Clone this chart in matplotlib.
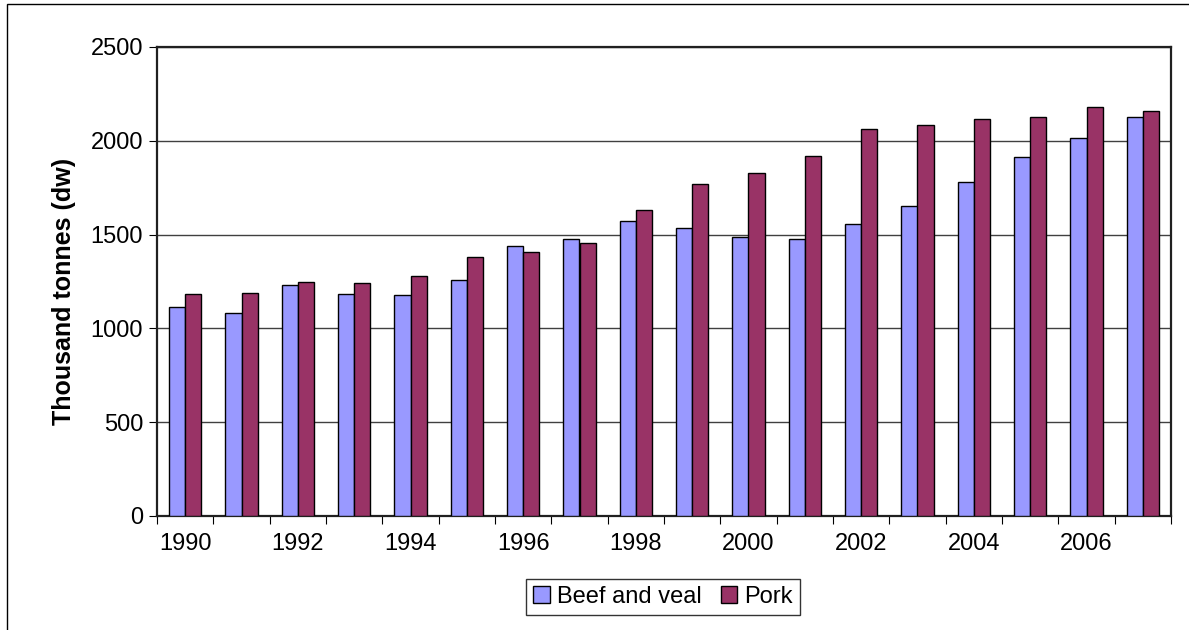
import matplotlib
matplotlib.use("Agg")
import matplotlib.pyplot as plt
import numpy as np
from matplotlib.patches import Rectangle

years = list(range(1990, 2008))
beef_veal = [1114, 1080, 1231, 1182, 1176, 1256, 1437, 1476, 1571, 1533,
             1485, 1475, 1558, 1651, 1779, 1912, 2013, 2125]
pork = [1182, 1187, 1245, 1240, 1279, 1380, 1405, 1457, 1629, 1768,
        1827, 1917, 2061, 2082, 2116, 2125, 2178, 2157]

plt.rcParams.update({
    "font.family": ["Liberation Sans", "DejaVu Sans"],
    "font.size": 17,
})

fig = plt.figure(figsize=(11.89, 6.30), dpi=100)
ax = fig.add_axes([157 / 1189, 1 - 516 / 630, (1171 - 157) / 1189, (516 - 47) / 630])

x = np.arange(len(years))
w = 1 / 3.5
ax.bar(x - w / 2, beef_veal, w, color="#9999FF", edgecolor="black", lw=1,
       label="Beef and veal", zorder=3)
ax.bar(x + w / 2, pork, w, color="#993366", edgecolor="black", lw=1,
       label="Pork", zorder=3)

ax.set_xlim(-0.5, len(years) - 0.5)
ax.set_ylim(0, 2500)
ax.set_yticks(range(0, 2501, 500))
ax.yaxis.grid(True, color="#404040", lw=1, zorder=0)
ax.set_axisbelow(True)

# ticks at category boundaries, labels every second year
ax.set_xticks(np.arange(-0.5, len(years)), minor=False)
ax.set_xticklabels([])
ax.set_xticks(x[::2], minor=True)
ax.set_xticklabels([str(y) for y in years[::2]], minor=True)
ax.tick_params(axis="x", which="minor", length=0, pad=12)
ax.tick_params(axis="x", which="major", length=6, direction="out")
ax.tick_params(axis="y", length=6, direction="out", pad=4)

for s in ax.spines.values():
    s.set_color("#202020")
    s.set_linewidth(1.6)

ax.set_ylabel("Thousand tonnes (dw)", fontweight="bold", fontsize=18)
ax.yaxis.set_label_coords((76 - 157) / 1014, (516 - 291) / 469)

leg = ax.legend(loc="center", bbox_to_anchor=(663 / 1189, 1 - 597 / 630),
                bbox_transform=fig.transFigure, ncol=2, frameon=True,
                fancybox=False, edgecolor="black", handlelength=0.7,
                handleheight=0.7, handletextpad=0.3, columnspacing=0.8,
                borderpad=0.3, borderaxespad=0)
leg.get_frame().set_linewidth(1)

# outer chart border (cropped at right and bottom)
fig.patches.append(Rectangle((7 / 1189, -0.1), 1.2, 1 - 4 / 630 + 0.1,
                             transform=fig.transFigure, fill=False,
                             edgecolor="black", lw=1))

fig.savefig("out.png", dpi=100)
